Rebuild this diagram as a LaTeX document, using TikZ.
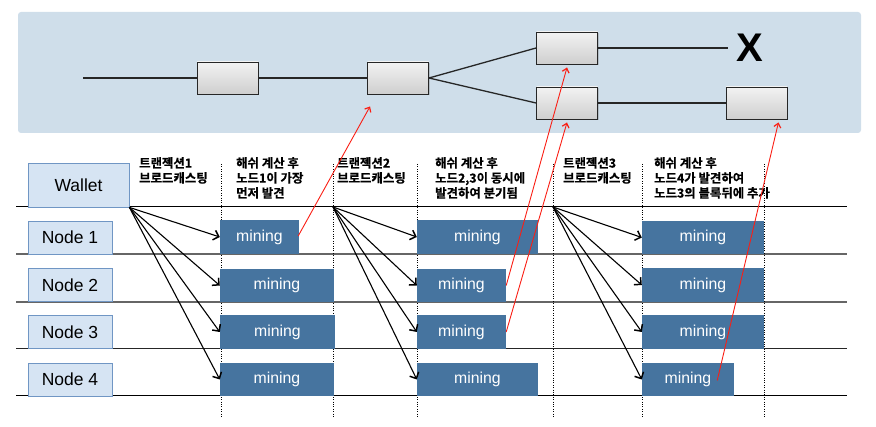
\documentclass[tikz,border=0pt]{standalone}
\usepackage{fontspec}
\setmainfont{Liberation Sans}
\newfontfamily\kr{Noto Sans CJK KR}[BoldFont={Noto Sans CJK KR Bold},BoldFeatures={FakeBold=0.6}]
\usetikzlibrary{arrows.meta,shadows}
\definecolor{panelblue}{RGB}{207,222,234}
\definecolor{mineblue}{RGB}{70,116,159}
\definecolor{nodefill}{RGB}{214,228,243}
\definecolor{nodeborder}{RGB}{112,150,196}
\definecolor{redline}{RGB}{250,30,20}
\begin{document}
\begin{tikzpicture}[x=1pt,y=-1pt,
  blk/.style={draw=black!85, line width=0.9pt, top color=gray!10, bottom color=gray!38,
    minimum width=61pt, minimum height=32pt, inner sep=0,
    drop shadow={shadow xshift=1pt, shadow yshift=-1.2pt, opacity=0.35}},
  lab/.style={draw=nodeborder, fill=nodefill, line width=0.8pt, inner sep=0,
    font=\fontsize{17.5}{20}\selectfont},
  mine/.style={fill=mineblue, text=white, inner sep=0, minimum height=33.5pt,
    font=\fontsize{15.8}{18}\selectfont},
  hdr/.style={anchor=north west, align=left, inner sep=0,
    font=\kr\bfseries\fontsize{12.4}{15}\selectfont},
  chain/.style={line width=1.3pt, black!85},
  rowline/.style={line width=1pt},
  sep/.style={line width=0.9pt, dash pattern=on 1pt off 1.4pt},
  arr/.style={line width=1.1pt, -{Straight Barb[length=5pt,width=10pt,line width=1.5pt]}},
  rarr/.style={line width=0.9pt, redline, -{Straight Barb[length=4pt,width=7pt,line width=1.2pt]}}
]
\useasboundingbox (0,0) rectangle (876,427);

% top panel
\fill[panelblue, rounded corners=3pt] (18,12) rectangle (861,133);
\coordinate (st) at (83,78);
\coordinate (xe) at (728,48);
\node[blk] (b1) at (227.5,78) {};
\node[blk] (b2) at (398,78) {};
\node[blk] (b3) at (567,48) {};
\node[blk] (b4) at (567,103) {};
\node[blk] (b5) at (756.5,103) {};
\node[inner sep=0, font=\bfseries\fontsize{40}{40}\selectfont] (xx) at (750,48) {X};
\draw[chain] (st) -- (b1.west);
\draw[chain] (b1.east) -- (b2.west);
\draw[chain] (b2.east) -- (b3.west);
\draw[chain] (b2.east) -- (b4.west);
\draw[chain] (b3.east) -- (xe);
\draw[chain] (b4.east) -- (b5.west);

% row lines
\draw[rowline, black] (16,207) -- (847,207);
\draw[rowline, black!60, line width=1.3pt] (16,254) -- (847,254);
\draw[rowline, black!60, line width=1.4pt] (16,302) -- (847,302);
\draw[rowline, black!85] (16,349) -- (847,349);
\draw[rowline, black] (16,396) -- (847,396);

% dotted separators
\foreach \xx in {221,333,417,553,642,764}
  \draw[sep] (\xx,164) -- (\xx,418);

% headers
\node[hdr] (h1) at (139,157) {트랜젝션1\\브로드캐스팅};
\node[hdr] (h2) at (236,157) {해쉬 계산 후\\노드1이 가장\\먼저 발견};
\node[hdr] (h3) at (337,157) {트랜젝션2\\브로드캐스팅};
\node[hdr] (h4) at (435,157) {해쉬 계산 후\\노드2,3이 동시에\\발견하여 분기됨};
\node[hdr] (h5) at (563,157) {트랜젝션3\\브로드캐스팅};
\node[hdr] (h6) at (654,157) {해쉬 계산 후\\노드4가 발견하여\\노드3의 블록뒤에 추가};

% left labels
\node[lab, minimum width=101pt, minimum height=44pt] (wallet) at (78.5,185) {Wallet};
\node[lab, minimum width=84pt, minimum height=33pt] (n1) at (70,237.5) {Node 1};
\node[lab, minimum width=84pt, minimum height=33pt] (n2) at (70,285) {Node 2};
\node[lab, minimum width=84pt, minimum height=33pt] (n3) at (70,332) {Node 3};
\node[lab, minimum width=84pt, minimum height=33pt] (n4) at (70,379.5) {Node 4};

% mining boxes
\node[mine, minimum width=79pt] (m11) at (259.5,237) {mining};
\node[mine, minimum width=114pt] (m12) at (277,285.5) {mining};
\node[mine, minimum width=115pt] (m13) at (277.5,332) {mining};
\node[mine, minimum width=114pt] (m14) at (277,379.5) {mining};
\node[mine, minimum width=121pt] (m21) at (477.5,237) {mining};
\node[mine, minimum width=89pt] (m22) at (461.5,285.5) {mining};
\node[mine, minimum width=89pt] (m23) at (461.5,332) {mining};
\node[mine, minimum width=121pt] (m24) at (477.5,379.5) {mining};
\node[mine, minimum width=122pt] (m31) at (703,237.5) {mining};
\node[mine, minimum width=122pt] (m32) at (703,285) {mining};
\node[mine, minimum width=122pt] (m33) at (703,332) {mining};
\node[mine, minimum width=92pt] (m34) at (688,379.5) {mining};

% broadcast arrows
\coordinate (o1) at (wallet.south east);
\coordinate (o2) at (333,207);
\coordinate (o3) at (553,207);
\foreach \m in {m11,m12,m13,m14} \draw[arr] (o1) -- (\m.west);
\foreach \m in {m21,m22,m23,m24} \draw[arr] (o2) -- (\m.west);
\foreach \m in {m31,m32,m33,m34} \draw[arr] (o3) -- (\m.west);

% red discovery arrows
\coordinate (r4) at ([shift={(-17,1)}]m34.east);
\draw[rarr] ([shift={(-1,-1)}]m11.east) -- ([shift={(3,12)}]b2.south west);
\draw[rarr] (m22.east) -- ([shift={(0,3)}]b3.south);
\draw[rarr] (m23.east) -- ([shift={(0,3)}]b4.south);
\draw[rarr] (r4) -- ([shift={(-9,3)}]b5.south east);
\end{tikzpicture}
\end{document}
